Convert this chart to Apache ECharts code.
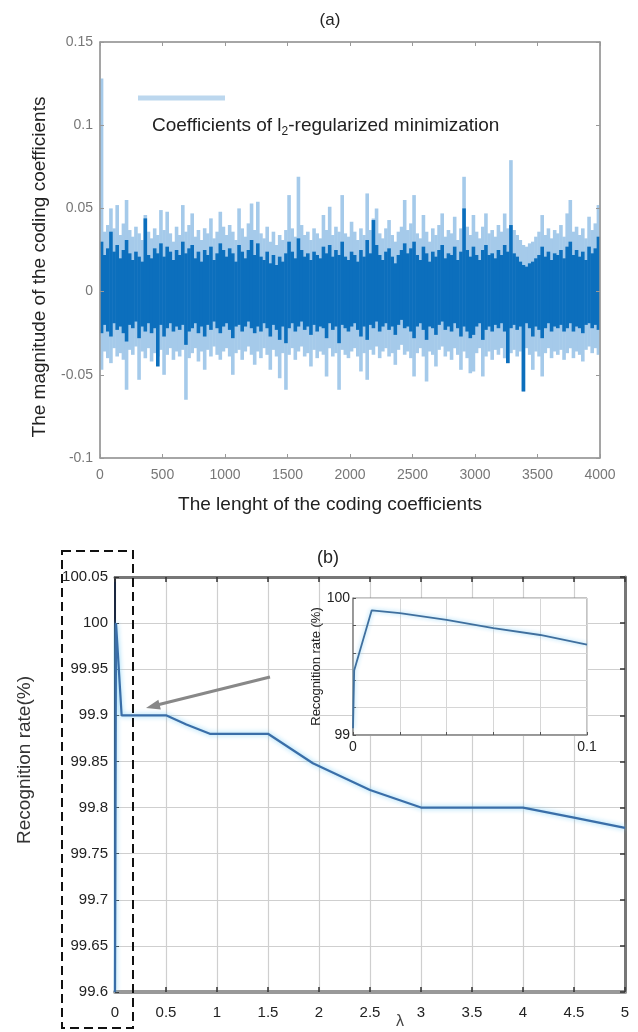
<!DOCTYPE html>
<html>
<head>
<meta charset="utf-8">
<script src="https://cdn.jsdelivr.net/npm/echarts@6/dist/echarts.min.js"></script>
<style>html,body{margin:0;padding:0;background:#fff;}#c{width:638px;height:1032px;}</style>
</head>
<body>
<div id="c"></div>
<script>
// ---------- Panel (a): envelope of coding coefficients per bin of 25 indices (0..4000) ----------
const lightUp = [
0.128,0.036,0.040,0.050,0.038,0.052,0.034,0.041,0.055,0.037,
0.033,0.039,0.035,0.031,0.046,0.036,0.032,0.038,0.034,0.049,
0.037,0.048,0.035,0.030,0.039,0.034,0.052,0.036,0.040,0.047,
0.033,0.037,0.031,0.038,0.035,0.044,0.032,0.036,0.048,0.039,
0.034,0.040,0.036,0.031,0.050,0.038,0.033,0.041,0.053,0.037,
0.054,0.035,0.032,0.039,0.030,0.036,0.028,0.034,0.031,0.037,
0.058,0.038,0.033,0.069,0.040,0.034,0.036,0.031,0.038,0.035,
0.032,0.046,0.037,0.051,0.034,0.039,0.036,0.058,0.035,0.033,
0.042,0.036,0.031,0.038,0.034,0.059,0.037,0.044,0.050,0.035,
0.032,0.038,0.043,0.034,0.030,0.036,0.039,0.055,0.037,0.041,
0.058,0.035,0.032,0.046,0.036,0.030,0.038,0.034,0.040,0.047,
0.033,0.037,0.035,0.045,0.031,0.038,0.069,0.039,0.034,0.046,
0.036,0.032,0.039,0.047,0.035,0.037,0.033,0.040,0.036,0.047,
0.038,0.079,0.037,0.034,0.031,0.028,0.027,0.029,0.030,0.033,
0.036,0.046,0.034,0.038,0.032,0.037,0.035,0.040,0.033,0.047,
0.055,0.036,0.039,0.034,0.038,0.032,0.045,0.037,0.041,0.052];
const lightDn = [
-0.047,-0.036,-0.040,-0.043,-0.034,-0.039,-0.037,-0.041,-0.059,-0.035,
-0.038,-0.033,-0.053,-0.036,-0.040,-0.034,-0.042,-0.037,-0.039,-0.035,
-0.050,-0.038,-0.034,-0.041,-0.036,-0.039,-0.035,-0.065,-0.040,-0.037,
-0.034,-0.042,-0.036,-0.047,-0.035,-0.039,-0.033,-0.038,-0.041,-0.036,
-0.034,-0.039,-0.050,-0.037,-0.035,-0.041,-0.036,-0.033,-0.038,-0.044,
-0.036,-0.040,-0.034,-0.038,-0.047,-0.035,-0.039,-0.052,-0.037,-0.059,
-0.038,-0.034,-0.041,-0.036,-0.033,-0.039,-0.037,-0.045,-0.035,-0.040,
-0.036,-0.038,-0.051,-0.034,-0.039,-0.037,-0.059,-0.035,-0.038,-0.040,
-0.036,-0.034,-0.039,-0.048,-0.037,-0.053,-0.035,-0.038,-0.033,-0.040,
-0.036,-0.034,-0.039,-0.037,-0.044,-0.035,-0.032,-0.038,-0.036,-0.040,
-0.051,-0.037,-0.034,-0.039,-0.054,-0.036,-0.038,-0.045,-0.035,-0.033,
-0.039,-0.036,-0.041,-0.034,-0.038,-0.047,-0.036,-0.040,-0.049,-0.048,
-0.037,-0.034,-0.051,-0.039,-0.036,-0.041,-0.035,-0.038,-0.034,-0.040,
-0.043,-0.037,-0.035,-0.039,-0.036,-0.060,-0.034,-0.038,-0.047,-0.036,
-0.039,-0.051,-0.037,-0.034,-0.040,-0.036,-0.038,-0.035,-0.041,-0.037,
-0.034,-0.040,-0.036,-0.038,-0.042,-0.035,-0.033,-0.037,-0.034,-0.038];
const darkUp = [
0.030,0.022,0.026,0.036,0.024,0.028,0.020,0.025,0.031,0.023,
0.019,0.024,0.021,0.018,0.044,0.022,0.020,0.026,0.023,0.029,
0.021,0.027,0.024,0.019,0.025,0.022,0.030,0.023,0.026,0.028,
0.020,0.024,0.018,0.025,0.022,0.027,0.019,0.023,0.029,0.025,
0.021,0.026,0.023,0.018,0.028,0.024,0.020,0.025,0.031,0.022,
0.029,0.021,0.019,0.024,0.017,0.022,0.016,0.021,0.018,0.023,
0.030,0.024,0.020,0.032,0.025,0.021,0.023,0.019,0.024,0.022,
0.020,0.027,0.023,0.028,0.021,0.025,0.022,0.030,0.021,0.019,
0.024,0.022,0.018,0.025,0.021,0.031,0.023,0.043,0.028,0.022,
0.019,0.024,0.026,0.021,0.017,0.022,0.025,0.029,0.023,0.026,
0.030,0.022,0.019,0.027,0.023,0.018,0.024,0.021,0.025,0.028,
0.020,0.023,0.022,0.027,0.019,0.024,0.050,0.025,0.021,0.027,
0.022,0.019,0.025,0.028,0.022,0.023,0.020,0.025,0.022,0.028,
0.024,0.040,0.023,0.021,0.018,0.016,0.015,0.017,0.018,0.020,
0.022,0.027,0.021,0.024,0.019,0.023,0.022,0.025,0.020,0.027,
0.030,0.022,0.025,0.021,0.024,0.019,0.027,0.023,0.026,0.033];
const darkDn = [
-0.025,-0.020,-0.024,-0.027,-0.019,-0.023,-0.021,-0.025,-0.030,-0.020,
-0.022,-0.018,-0.028,-0.021,-0.024,-0.019,-0.025,-0.022,-0.045,-0.020,
-0.027,-0.022,-0.019,-0.024,-0.021,-0.023,-0.020,-0.032,-0.024,-0.022,
-0.019,-0.025,-0.021,-0.027,-0.020,-0.023,-0.018,-0.022,-0.025,-0.021,
-0.019,-0.023,-0.028,-0.021,-0.020,-0.024,-0.021,-0.018,-0.022,-0.025,
-0.021,-0.024,-0.019,-0.022,-0.027,-0.020,-0.023,-0.029,-0.021,-0.031,
-0.022,-0.019,-0.024,-0.021,-0.018,-0.023,-0.021,-0.026,-0.020,-0.024,
-0.021,-0.022,-0.028,-0.019,-0.023,-0.021,-0.031,-0.020,-0.022,-0.024,
-0.021,-0.019,-0.023,-0.027,-0.021,-0.029,-0.020,-0.022,-0.018,-0.024,
-0.021,-0.019,-0.023,-0.021,-0.026,-0.020,-0.017,-0.022,-0.021,-0.024,
-0.028,-0.021,-0.019,-0.023,-0.029,-0.021,-0.022,-0.026,-0.020,-0.018,
-0.023,-0.021,-0.024,-0.019,-0.022,-0.027,-0.021,-0.024,-0.028,-0.026,
-0.021,-0.019,-0.029,-0.023,-0.021,-0.024,-0.020,-0.022,-0.019,-0.024,
-0.043,-0.022,-0.020,-0.023,-0.021,-0.060,-0.019,-0.022,-0.027,-0.021,
-0.023,-0.028,-0.022,-0.019,-0.024,-0.021,-0.022,-0.020,-0.024,-0.022,
-0.019,-0.024,-0.021,-0.022,-0.025,-0.020,-0.019,-0.022,-0.020,-0.023];

// ---------- Panel (b): recognition rate vs lambda ----------
const lambdaMain = [0, 0.01, 0.065, 0.5, 0.7, 0.93, 1.5, 1.94, 2.5, 3.0, 4.0, 4.5, 5.0];
const rateMain   = [99.6, 100.0, 99.9, 99.9, 99.89, 99.88, 99.88, 99.848, 99.819, 99.8, 99.8, 99.789, 99.778];
const lambdaInset = [0, 0.0005, 0.008, 0.02, 0.04, 0.06, 0.08, 0.1];
const rateInset   = [99.05, 99.47, 99.91, 99.89, 99.84, 99.78, 99.73, 99.66];

const binCats = lightUp.map((_, i) => String(i));
const FONT = '"Liberation Sans", Arial, sans-serif';
const LIGHT = '#a5caea', DARK = '#0c6fbd';

// Each bin drawn as one bar spanning [low, high]: an invisible base bar (0 -> low)
// plus a visible bar stacked on it with height (high - low).
function rangeSeries(low, high, color, stackId, z) {
  const common = { type: 'bar', xAxisIndex: 1, yAxisIndex: 0, barWidth: 3.6, barGap: '-100%',
    stack: stackId, stackStrategy: 'all', silent: true, animation: false, z: z };
  return [
    Object.assign({}, common, { data: low, itemStyle: { color: 'rgba(0,0,0,0)' } }),
    Object.assign({}, common, { data: high.map((h, i) => +(h - low[i]).toFixed(4)), itemStyle: { color: color } })
  ];
}
const center = { textAlign: 'center', textVerticalAlign: 'middle', align: 'center', verticalAlign: 'middle' };

const chart = echarts.init(document.getElementById('c'), null, { renderer: 'canvas' });
chart.setOption({
  animation: false,
  backgroundColor: '#fff',
  grid: [
    { left: 100, top: 42, width: 500, height: 416, show: true, borderColor: '#999', borderWidth: 1 },
    { left: 115, top: 577, width: 510, height: 415 },
    { left: 353, top: 598, width: 234, height: 137, show: true, backgroundColor: '#fff', borderColor: '#888', borderWidth: 1, z: 3 }
  ],
  xAxis: [
    { gridIndex: 0, type: 'value', min: 0, max: 4000, interval: 500, position: 'bottom', z: 5,
      axisLine: { onZero: false, lineStyle: { color: '#999', width: 1.5 } }, axisTick: { inside: true, length: 4, lineStyle: { color: '#999' } },
      axisLabel: { color: '#777', fontSize: 14, fontFamily: FONT, margin: 10, formatter: v => String(v) }, splitLine: { show: false } },
    { gridIndex: 0, type: 'category', data: binCats, show: false, boundaryGap: true, axisLine: { show: false, onZero: false } },
    { gridIndex: 0, type: 'value', min: 0, max: 4000, interval: 500, position: 'top', z: 5,
      axisLine: { onZero: false, lineStyle: { color: '#999', width: 1.5 } }, axisTick: { inside: true, length: 4, lineStyle: { color: '#999' } },
      axisLabel: { show: false }, splitLine: { show: false } },
    // panel b
    { gridIndex: 1, type: 'value', min: 0, max: 5, interval: 0.5, position: 'bottom',
      axisLine: { onZero: false, lineStyle: { color: '#999', width: 4 } }, axisTick: { inside: true, length: 5, lineStyle: { color: '#333', width: 1.5 } },
      axisLabel: { color: '#222', fontSize: 15, fontFamily: FONT, margin: 13, formatter: v => String(+v.toFixed(1)) },
      splitLine: { show: true, lineStyle: { color: '#cfcfcf', width: 1.2 } } },
    { gridIndex: 1, type: 'value', min: 0, max: 5, interval: 0.5, position: 'top',
      axisLine: { onZero: false, lineStyle: { color: '#777', width: 3 } }, axisTick: { inside: true, length: 5, lineStyle: { color: '#333', width: 1.5 } },
      axisLabel: { show: false }, splitLine: { show: false } },
    // inset
    { gridIndex: 2, type: 'value', min: 0, max: 0.1, interval: 0.02, position: 'bottom', z: 4,
      axisLine: { onZero: false, lineStyle: { color: '#888', width: 1.5 } }, axisTick: { inside: true, length: 3, lineStyle: { color: '#555' } },
      axisLabel: { color: '#222', fontSize: 14, fontFamily: FONT, margin: 5,
        formatter: v => (Math.abs(v) < 1e-9 ? '0' : (Math.abs(v - 0.1) < 1e-9 ? '0.1' : '')) },
      splitLine: { show: true, lineStyle: { color: '#d6d6d6', width: 1 } } }
  ],
  yAxis: [
    { gridIndex: 0, type: 'value', min: -0.1, max: 0.15, interval: 0.05, position: 'left', z: 5,
      axisLine: { show: true, onZero: false, lineStyle: { color: '#999', width: 1.5 } }, axisTick: { show: true, inside: true, length: 4, lineStyle: { color: '#999' } },
      axisLabel: { color: '#777', fontSize: 14, fontFamily: FONT, margin: 7, formatter: v => String(+v.toFixed(2)) },
      splitLine: { show: false } },
    { gridIndex: 0, type: 'value', min: -0.1, max: 0.15, interval: 0.05, position: 'right', z: 5,
      axisLine: { show: true, onZero: false, lineStyle: { color: '#999', width: 1.5 } }, axisTick: { show: true, inside: true, length: 4, lineStyle: { color: '#999' } },
      axisLabel: { show: false }, splitLine: { show: false } },
    // panel b
    { gridIndex: 1, type: 'value', min: 99.6, max: 100.05, interval: 0.05, position: 'left',
      axisLine: { show: true, onZero: false, lineStyle: { color: '#1b2740', width: 2 } }, axisTick: { show: true, inside: true, length: 4, lineStyle: { color: '#333' } },
      axisLabel: { color: '#222', fontSize: 15, fontFamily: FONT, margin: 7, formatter: v => String(+v.toFixed(2)) },
      splitLine: { show: true, lineStyle: { color: '#cfcfcf', width: 1.2 } } },
    { gridIndex: 1, type: 'value', min: 99.6, max: 100.05, interval: 0.05, position: 'right',
      axisLine: { show: true, onZero: false, lineStyle: { color: '#777', width: 3 } }, axisTick: { show: true, inside: true, length: 5, lineStyle: { color: '#333', width: 1.5 } },
      axisLabel: { show: false }, splitLine: { show: false } },
    // inset
    { gridIndex: 2, type: 'value', min: 99, max: 100, interval: 0.2, position: 'left', z: 4,
      name: 'Recognition rate (%)', nameLocation: 'middle', nameGap: 28, nameTextStyle: { fontSize: 13, color: '#222', fontFamily: FONT },
      axisLine: { show: true, onZero: false, lineStyle: { color: '#888', width: 1.5 } }, axisTick: { show: true, inside: true, length: 3, lineStyle: { color: '#555' } },
      axisLabel: { color: '#222', fontSize: 14, fontFamily: FONT, margin: 3,
        formatter: v => (Math.abs(v - 99) < 1e-9 ? '99' : (Math.abs(v - 100) < 1e-9 ? '100' : '')) },
      splitLine: { show: true, lineStyle: { color: '#d6d6d6', width: 1 } } }
  ],
  series: [].concat(
    rangeSeries(lightDn, lightUp, LIGHT, 'light', 2),
    rangeSeries(darkDn, darkUp, DARK, 'dark', 3),
    [
      { type: 'line', xAxisIndex: 3, yAxisIndex: 2, data: lambdaMain.map((x, i) => [x, rateMain[i]]),
        showSymbol: false, z: 2,
        lineStyle: { color: '#3a6ea8', width: 2.2, shadowColor: 'rgba(120,205,245,0.95)', shadowBlur: 5 } },
      { type: 'line', xAxisIndex: 5, yAxisIndex: 4, data: lambdaInset.map((x, i) => [x, rateInset[i]]),
        showSymbol: false, z: 6,
        lineStyle: { color: '#3f6f9e', width: 1.8, shadowColor: 'rgba(140,210,245,0.95)', shadowBlur: 4 } }
    ]
  ),
  graphic: [
    { type: 'text', x: 330, y: 20, style: Object.assign({ text: '(a)', font: '17px ' + FONT, fill: '#222' }, center) },
    { type: 'text', x: 330, y: 505, style: Object.assign({ text: 'The lenght of the coding coefficients', font: '19px ' + FONT, fill: '#222' }, center) },
    { type: 'text', x: 40, y: 267, rotation: Math.PI / 2, style: Object.assign({ text: 'The magnitude of the coding coefficients', font: '19px ' + FONT, fill: '#222' }, center) },
    { type: 'line', shape: { x1: 138, y1: 98, x2: 225, y2: 98 }, style: { stroke: '#bcd7ee', lineWidth: 5 }, z: 10 },
    { type: 'text', x: 152, y: 126, z: 10, style: { text: 'Coefficients of l{s|2}-regularized minimization', font: '19px ' + FONT, fill: '#222',
        textVerticalAlign: 'middle', verticalAlign: 'middle',
        rich: { s: { fontSize: 12, fontFamily: FONT, fill: '#222', padding: [11, 0, 0, 0] } } } },
    { type: 'text', x: 328, y: 558, style: Object.assign({ text: '(b)', font: '18px ' + FONT, fill: '#222' }, center) },
    { type: 'text', x: 25, y: 760, rotation: Math.PI / 2, style: Object.assign({ text: 'Recognition rate(%)', font: '19px ' + FONT, fill: '#333' }, center) },
    { type: 'text', x: 400, y: 1022, style: Object.assign({ text: 'λ', font: '16px ' + FONT, fill: '#444' }, center) },
    { type: 'rect', shape: { x: 62, y: 551, width: 71, height: 477 }, style: { fill: 'none', stroke: '#111', lineWidth: 2, lineDash: [9, 5] }, z: 20 },
    { type: 'line', shape: { x1: 270, y1: 677, x2: 157, y2: 705 }, style: { stroke: '#888', lineWidth: 3 }, z: 20 },
    { type: 'polygon', shape: { points: [[146, 708], [158.4, 699.8], [160.8, 709.6]] }, style: { fill: '#888' }, z: 20 }
  ]
});
</script>
</body>
</html>
